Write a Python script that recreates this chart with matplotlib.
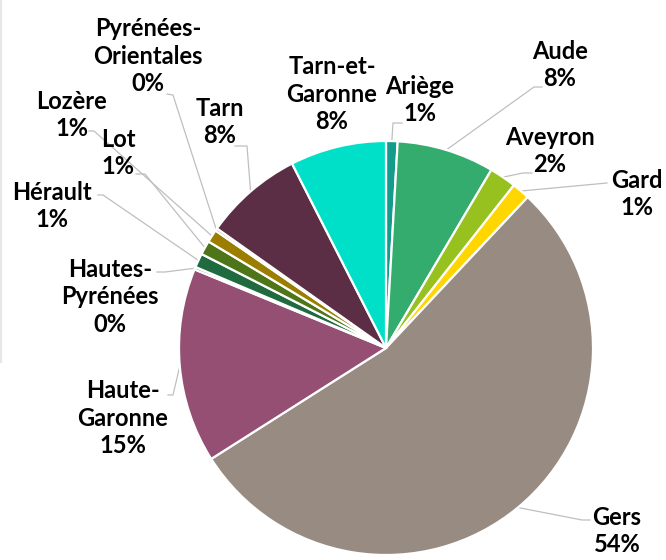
import matplotlib
matplotlib.use("Agg")
import matplotlib.pyplot as plt
import numpy as np
from matplotlib.lines import Line2D

# ---- data ----
departements = ["Ariège", "Aude", "Aveyron", "Gard", "Gers", "Haute-\nGaronne",
                "Hautes-\nPyrénées", "Hérault", "Lot", "Lozère",
                "Pyrénées-\nOrientales", "Tarn", "Tarn-et-\nGaronne"]
parts = [0.9, 7.6, 2.1, 1.4, 54.0, 15.2, 0.2, 1.1, 1.1, 1.0, 0.2, 7.7, 7.5]
colors = ["#139B8B", "#33AC6E", "#97C11F", "#FFD600", "#978B82", "#944F73",
          "#2E7D5B", "#1F6B3F", "#4E7518", "#9B7D00", "#7A6A2A", "#5B2E45", "#00E0C8"]

# ---- layout (pixel coordinates, y measured from top) ----
W, H = 666, 560
cx, cy, R = 386, 348, 207
label_pos = [(420, 100), (560, 65), (550, 151), (637, 194), (617, 531), (123, 418),
             (110, 297), (52, 206), (118, 153), (72, 115), (148, 56), (220, 122), (332, 94)]
# leader: (start, knee) in pixels, None for no leader
leaders = [((402, 123), (393, 123)), ((542, 87), (534, 87)), ((532, 173), (523, 173)),
           ((607, 183), (607, 183)), ((590, 520), (582, 520)), ((168, 395), (173, 395)),
           ((157, 272), (165, 272)), ((98, 195), (103, 195)), ((136, 174), (145, 174)),
           ((89, 131), (94, 131)), ((167, 94), (173, 95)), ((235, 146), (247, 146)), None]

fig = plt.figure(figsize=(W / 100, H / 100), dpi=100)
ax = fig.add_axes([0, 0, 1, 1])

def py(y):
    return H - y

wedges, _ = ax.pie(parts, colors=colors, startangle=90, counterclock=False,
                   center=(cx, py(cy)), radius=R,
                   wedgeprops=dict(edgecolor="white", linewidth=1.6))
ax.set_xlim(0, W)
ax.set_ylim(0, H)
ax.set_aspect("equal")
ax.axis("off")

total = sum(parts)
for w, name, val, lp, ld in zip(wedges, departements, parts, label_pos, leaders):
    pct = "{:.0f}%".format(100 * val / total)
    ax.text(lp[0], py(lp[1]), f"{name}\n{pct}", ha="center", va="center",
            fontsize=17, fontweight="bold", family="Lato", color="black",
            linespacing=1.25)
    if ld is not None:
        ang = np.deg2rad((w.theta1 + w.theta2) / 2)
        ex = cx + R * np.cos(ang)
        ey = py(cy) + R * np.sin(ang)
        (sx, sy), (kx, ky) = ld
        ax.plot([sx, kx, ex], [py(sy), py(ky), ey], color="#BFBFBF", lw=0.9,
                zorder=0.5)

fig.add_artist(Line2D([0.5 / W, 0.5 / W], [1, 1 - 362 / H], color="#E6E6E6", lw=1.5))

fig.savefig("out.png", dpi=100)
